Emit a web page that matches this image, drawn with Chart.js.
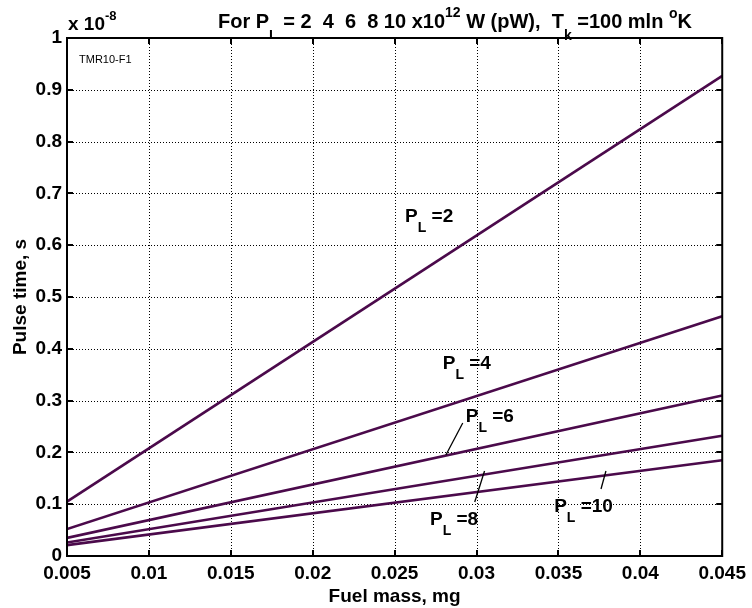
<!DOCTYPE html>
<html><head><meta charset="utf-8">
<script src="https://cdn.jsdelivr.net/npm/chart.js@4.4.1/dist/chart.umd.min.js"></script>
<style>html,body{margin:0;padding:0;background:#fff;} canvas{display:block;}</style>
</head><body>
<canvas id="c" width="752" height="608" style="width:752px;height:608px"></canvas>
<script>
// ---- data ----
const fuelMass = [0.005, 0.045];           // mg, line endpoints
const pulseP2  = [0.105, 0.927];           // x 1e-8 s
const pulseP4  = [0.052, 0.463];
const pulseP6  = [0.035, 0.310];
const pulseP8  = [0.026, 0.232];
const pulseP10 = [0.021, 0.185];
const powerLabels = ['2', '4', '6', '8', '10'];
const xTickValues = [0.005, 0.01, 0.015, 0.02, 0.025, 0.03, 0.035, 0.04, 0.045];
const xTickLabels = ['0.005','0.01','0.015','0.02','0.025','0.03','0.035','0.04','0.045'];
const yTickValues = [0, 0.1, 0.2, 0.3, 0.4, 0.5, 0.6, 0.7, 0.8, 0.9, 1];
const yTickLabels = ['0','0.1','0.2','0.3','0.4','0.5','0.6','0.7','0.8','0.9','1'];
// label anchors (data units): x, y of the "P" baseline-left
const labelX = [0.02564, 0.02794, 0.02934, 0.02716, 0.03474];
const labelY = [0.6448, 0.361, 0.2587, 0.0598, 0.0849];
// pointer segments (data units) for P_L=6, 8, 10
const pointerFrom = [[0.02916, 0.2568], [0.03049, 0.1641], [0.03790, 0.1641]];
const pointerTo   = [[0.02813, 0.1950], [0.02989, 0.1042], [0.03760, 0.1293]];

const LINE = '#4b0a4b';
const FONT = '"Liberation Sans", Arial, Helvetica, sans-serif';
const series = [pulseP2, pulseP4, pulseP6, pulseP8, pulseP10];

function rich(ctx, x, y, parts) {
  for (const p of parts) {
    ctx.font = `${p[3] || 'bold'} ${p[1]}px ${FONT}`;
    ctx.fillText(p[0], x, y + p[2]);
    x += ctx.measureText(p[0]).width;
  }
  return x;
}

const deco = {
  id: 'deco',
  beforeDraw(chart) {
    const ctx = chart.ctx;
    ctx.save();
    ctx.fillStyle = '#fff';
    ctx.fillRect(0, 0, chart.width, chart.height);
    ctx.restore();
  },
  beforeDatasetsDraw(chart) {
    const ctx = chart.ctx, a = chart.chartArea;
    const xs = chart.scales.x, ys = chart.scales.y;
    ctx.save();
    ctx.strokeStyle = '#000';
    ctx.lineWidth = 1;
    ctx.setLineDash([1, 2]);
    xTickValues.forEach(v => {
      const px = Math.round(xs.getPixelForValue(v)) + 0.5;
      ctx.beginPath(); ctx.moveTo(px, a.top); ctx.lineTo(px, a.bottom); ctx.stroke();
    });
    yTickValues.forEach(v => {
      const py = Math.round(ys.getPixelForValue(v)) + 0.5;
      ctx.beginPath(); ctx.moveTo(a.left, py); ctx.lineTo(a.right, py); ctx.stroke();
    });
    ctx.restore();
  },
  afterDatasetsDraw(chart) {
    const ctx = chart.ctx, a = chart.chartArea;
    const xs = chart.scales.x, ys = chart.scales.y;
    ctx.save();
    // inner ticks
    ctx.strokeStyle = '#000';
    ctx.lineWidth = 2;
    const tl = 6;
    xTickValues.forEach(v => {
      const px = Math.round(xs.getPixelForValue(v));
      ctx.beginPath();
      ctx.moveTo(px, a.bottom); ctx.lineTo(px, a.bottom - tl);
      ctx.moveTo(px, a.top); ctx.lineTo(px, a.top + tl);
      ctx.stroke();
    });
    yTickValues.forEach(v => {
      const py = Math.round(ys.getPixelForValue(v));
      ctx.beginPath();
      ctx.moveTo(a.left, py); ctx.lineTo(a.left + tl, py);
      ctx.moveTo(a.right, py); ctx.lineTo(a.right - tl, py);
      ctx.stroke();
    });
    // frame
    ctx.lineWidth = 2;
    ctx.strokeRect(a.left, a.top, a.right - a.left, a.bottom - a.top);

    // pointers
    ctx.lineWidth = 1.3;
    for (let i = 0; i < pointerFrom.length; i++) {
      ctx.beginPath();
      ctx.moveTo(xs.getPixelForValue(pointerFrom[i][0]), ys.getPixelForValue(pointerFrom[i][1]));
      ctx.lineTo(xs.getPixelForValue(pointerTo[i][0]), ys.getPixelForValue(pointerTo[i][1]));
      ctx.stroke();
    }
    // P_L labels
    ctx.fillStyle = '#000';
    ctx.textBaseline = 'alphabetic';
    ctx.textAlign = 'left';
    for (let i = 0; i < powerLabels.length; i++) {
      rich(ctx, xs.getPixelForValue(labelX[i]), ys.getPixelForValue(labelY[i]),
        [['P', 19, 0], ['L', 14, 10], [' =' + powerLabels[i], 19, 0]]);
    }
    // TMR label
    ctx.font = `11px ${FONT}`;
    ctx.fillText('TMR10-F1', a.left + 12, a.top + 25);

    // exponent
    rich(ctx, a.left + 1, 30, [['x 10', 19, 0], ['-8', 13, -10]]);

    // title (subscript L clipped by the axes box)
    ctx.save();
    ctx.beginPath(); ctx.rect(0, 0, chart.width, a.top - 1); ctx.clip();
    let tx = 218;
    tx = rich(ctx, tx, 28, [['For P', 20, 0]]);
    tx = rich(ctx, tx, 28, [['L', 14, 12]]);
    ctx.restore();
    rich(ctx, tx, 28, [[' = 2  4  6  8 10 x10', 20, 0], ['12', 14, -11], [' W (pW),  T', 20, 0],
      ['k', 14, 12], [' =100 mln ', 20, 0], ['o', 14, -10], ['K', 20, 0]]);

    // axis titles
    ctx.font = `bold 19px ${FONT}`;
    ctx.textAlign = 'center';
    ctx.fillText('Fuel mass, mg', (a.left + a.right) / 2, 602);
    ctx.save();
    ctx.translate(21, (a.top + a.bottom) / 2);
    ctx.rotate(-Math.PI / 2);
    ctx.textBaseline = 'middle';
    ctx.fillText('Pulse time, s', 0, 0);
    ctx.restore();
    ctx.restore();
  }
};

new Chart(document.getElementById('c'), {
  type: 'scatter',
  data: {
    datasets: series.map((s, i) => ({
      label: 'P_L=' + powerLabels[i],
      data: fuelMass.map((m, j) => ({ x: m, y: s[j] })),
      showLine: true,
      borderColor: LINE,
      backgroundColor: LINE,
      borderWidth: 2.6,
      pointRadius: 0,
      tension: 0
    }))
  },
  options: {
    responsive: false,
    devicePixelRatio: 1,
    animation: false,
    layout: { padding: { left: 0, right: 26, top: 38, bottom: 0 } },
    plugins: { legend: { display: false }, tooltip: { enabled: false }, title: { display: false } },
    scales: {
      x: {
        type: 'linear', min: 0.005, max: 0.045,
        afterBuildTicks: s => { s.ticks = xTickValues.map(v => ({ value: v })); },
        afterFit: s => { s.height = 52; },
        grid: { display: false, drawTicks: false },
        border: { display: false },
        ticks: {
          color: '#000', padding: 6, maxRotation: 0, autoSkip: false,
          font: { family: FONT, size: 19, weight: 'bold' },
          callback: (v, i) => xTickLabels[i]
        }
      },
      y: {
        type: 'linear', min: 0, max: 1,
        afterBuildTicks: s => { s.ticks = yTickValues.map(v => ({ value: v })); },
        afterFit: s => { s.width = 67; },
        grid: { display: false, drawTicks: false },
        border: { display: false },
        ticks: {
          color: '#000', padding: 5, autoSkip: false,
          font: { family: FONT, size: 19, weight: 'bold' },
          callback: (v, i) => yTickLabels[i]
        }
      }
    }
  },
  plugins: [deco]
});
</script>
</body></html>
